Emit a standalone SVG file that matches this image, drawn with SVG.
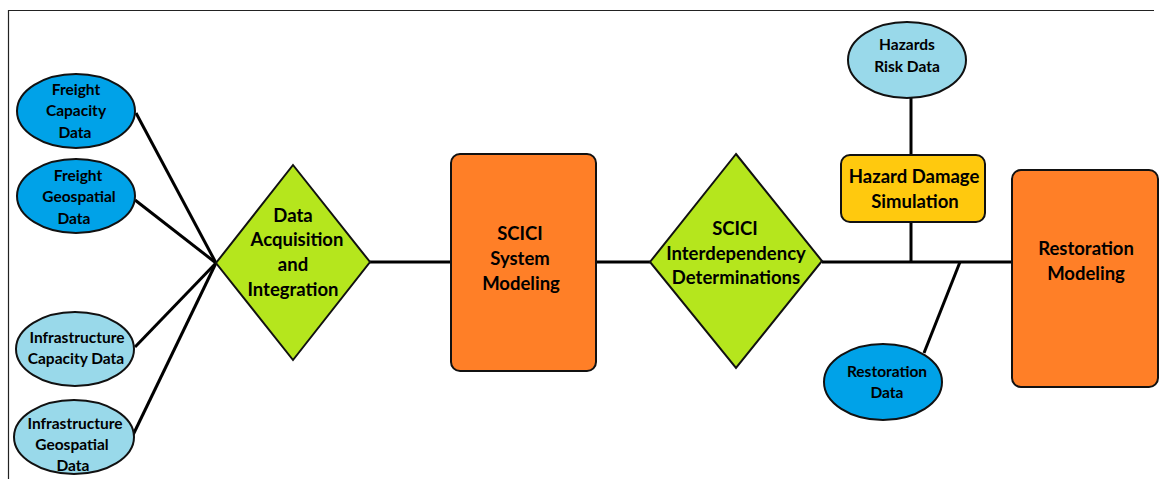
<svg xmlns="http://www.w3.org/2000/svg" width="1161" height="479" viewBox="0 0 1161 479">
<style>
.sh{stroke:#111;stroke-width:2}
.dk{fill:#00A2E8}
.lt{fill:#99D9EA}
.or{fill:#FF7F27}
.gr{fill:#B5E61D}
.ye{fill:#FFC90E}
.ln{stroke:#000;stroke-width:3;fill:none}
text{font-family:Lato,"Liberation Sans",sans-serif;font-weight:bold;fill:#000;text-anchor:middle}
.s{font-size:15.5px}
.m{font-size:18.5px}
</style>
<rect width="1161" height="479" fill="#fff"/>
<path d="M8.5,479 V10.5 H1154" fill="none" stroke="#222" stroke-width="1.2"/>
<g id="connectors">
<line class="ln" x1="136" y1="113" x2="216" y2="263"/>
<line class="ln" x1="135" y1="200" x2="216" y2="263"/>
<line class="ln" x1="135" y1="347" x2="216" y2="263"/>
<line class="ln" x1="133" y1="435" x2="216" y2="263"/>
<line class="ln" x1="370" y1="262" x2="451" y2="262"/>
<line class="ln" x1="596" y1="262" x2="650" y2="262"/>
<line class="ln" x1="822" y1="262" x2="1012" y2="262"/>
<line class="ln" x1="911" y1="98" x2="911" y2="155"/>
<line class="ln" x1="911" y1="222" x2="911" y2="262"/>
<line class="ln" x1="960" y1="262" x2="924" y2="353"/>
</g>
<g id="freight-capacity">
<ellipse class="sh dk" cx="76" cy="111" rx="59" ry="37"/>
<text class="s" x="76" y="95">Freight</text>
<text class="s" x="76" y="116">Capacity</text>
<text class="s" x="75" y="138">Data</text>
</g>
<g id="freight-geospatial">
<ellipse class="sh dk" cx="76" cy="196" rx="59" ry="37"/>
<text class="s" x="78" y="181">Freight</text>
<text class="s" x="79" y="202">Geospatial</text>
<text class="s" x="74" y="224">Data</text>
</g>
<g id="infrastructure-capacity">
<ellipse class="sh lt" cx="75" cy="349" rx="59" ry="37"/>
<text class="s" x="77" y="343">Infrastructure</text>
<text class="s" x="76" y="364">Capacity Data</text>
</g>
<g id="infrastructure-geospatial">
<ellipse class="sh lt" cx="74" cy="437" rx="60" ry="37"/>
<text class="s" x="75" y="429">Infrastructure</text>
<text class="s" x="72" y="450">Geospatial</text>
<text class="s" x="73" y="471">Data</text>
</g>
<g id="data-acquisition">
<polygon class="sh gr" points="293,165 370,262 293,360 216,263"/>
<text class="m" x="293" y="222">Data</text>
<text class="m" x="297" y="246">Acquisition</text>
<text class="m" x="293" y="271">and</text>
<text class="m" x="293" y="296">Integration</text>
</g>
<g id="scici-system-modeling">
<rect class="sh or" x="451" y="154" width="145" height="217" rx="9"/>
<text class="m" x="520" y="240">SCICI</text>
<text class="m" x="520" y="265">System</text>
<text class="m" x="521" y="290">Modeling</text>
</g>
<g id="scici-interdependency">
<polygon class="sh gr" points="736,154 822,261 736,368 650,262"/>
<text class="m" x="735" y="235">SCICI</text>
<text class="m" x="736" y="260">Interdependency</text>
<text class="m" x="736" y="284">Determinations</text>
</g>
<g id="hazards-risk-data">
<ellipse class="sh lt" cx="907" cy="60" rx="59" ry="38"/>
<text class="s" x="907" y="50">Hazards</text>
<text class="s" x="907" y="72">Risk Data</text>
</g>
<g id="hazard-damage-simulation">
<rect class="sh ye" x="841" y="155" width="144" height="67" rx="9"/>
<text class="m" x="914" y="183">Hazard Damage</text>
<text class="m" x="915" y="208">Simulation</text>
</g>
<g id="restoration-data">
<ellipse class="sh dk" cx="883" cy="382" rx="59" ry="38"/>
<text class="s" x="887" y="377">Restoration</text>
<text class="s" x="887" y="398">Data</text>
</g>
<g id="restoration-modeling">
<rect class="sh or" x="1012" y="170" width="146" height="217" rx="9"/>
<text class="m" x="1086" y="255">Restoration</text>
<text class="m" x="1086" y="280">Modeling</text>
</g>
</svg>
